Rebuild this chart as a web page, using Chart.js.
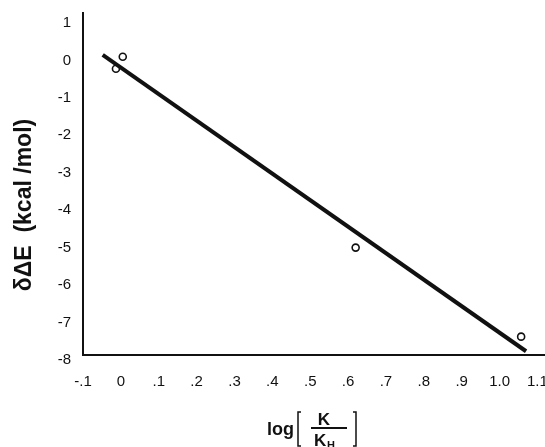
<!DOCTYPE html>
<html>
<head>
<meta charset="utf-8">
<script src="https://cdn.jsdelivr.net/npm/chart.js@4"></script>
<style>
  html, body { margin: 0; padding: 0; background: #fff; }
  #wrap { width: 545px; height: 447px; }
</style>
</head>
<body>
<div id="wrap"><canvas id="grafico" width="545" height="447"></canvas></div>
<script>
// datos
const puntosX = [-0.013, 0.005, 0.62, 1.057];
const puntosY = [-0.22, 0.1, -5.0, -7.38];
const rectaX = [-0.048, 1.07];
const rectaY = [0.15, -7.77];
const ticksX = [-0.1, 0, 0.1, 0.2, 0.3, 0.4, 0.5, 0.6, 0.7, 0.8, 0.9, 1.0, 1.1];
const etiquetasX = ["-.1", "0", ".1", ".2", ".3", ".4", ".5", ".6", ".7", ".8", ".9", "1.0", "1.1"];
const ticksY = [-8, -7, -6, -5, -4, -3, -2, -1, 0, 1];

const fuente = "'Liberation Sans', Arial, sans-serif";

// titulos dibujados a mano (fraccion del eje x)
const titulos = {
  id: "titulos",
  afterDraw(chart) {
    const ctx = chart.ctx;
    ctx.save();
    ctx.fillStyle = "#111";
    ctx.strokeStyle = "#111";

    // eje y
    ctx.translate(25, 205);
    ctx.rotate(-Math.PI / 2);
    ctx.font = "bold 23px " + fuente;
    ctx.textAlign = "center";
    ctx.textBaseline = "middle";
    ctx.fillText("δΔE  (kcal /mol)", 0, 0);
    ctx.setTransform(1, 0, 0, 1, 0, 0);

    // eje x
    ctx.textAlign = "left";
    ctx.textBaseline = "alphabetic";
    ctx.font = "bold 18px " + fuente;
    ctx.fillText("log", 267, 435);

    ctx.lineWidth = 1.5;
    ctx.beginPath();
    ctx.moveTo(301, 412); ctx.lineTo(298, 412); ctx.lineTo(298, 446); ctx.lineTo(301, 446);
    ctx.moveTo(353, 412); ctx.lineTo(356, 412); ctx.lineTo(356, 446); ctx.lineTo(353, 446);
    ctx.stroke();

    ctx.font = "bold 17px " + fuente;
    ctx.textAlign = "center";
    ctx.fillText("K", 324, 425);
    ctx.lineWidth = 2;
    ctx.beginPath();
    ctx.moveTo(311, 428); ctx.lineTo(347, 428);
    ctx.stroke();
    ctx.textAlign = "left";
    ctx.fillText("K", 314, 446);
    ctx.font = "bold 11px " + fuente;
    ctx.fillText("H", 327, 449);
    ctx.restore();
  }
};

new Chart(document.getElementById("grafico").getContext("2d"), {
  type: "scatter",
  data: {
    datasets: [
      {
        label: "ajuste",
        data: rectaX.map((x, i) => ({ x: x, y: rectaY[i] })),
        showLine: true,
        borderColor: "#111",
        borderWidth: 4,
        pointRadius: 0
      },
      {
        label: "datos",
        data: puntosX.map((x, i) => ({ x: x, y: puntosY[i] })),
        pointRadius: 3.5,
        pointBorderWidth: 1.6,
        pointBorderColor: "#111",
        pointBackgroundColor: "rgba(0,0,0,0)"
      }
    ]
  },
  plugins: [titulos],
  options: {
    responsive: false,
    animation: false,
    layout: { autoPadding: false, padding: { top: 13, right: 0, left: 0, bottom: 0 } },
    plugins: {
      legend: { display: false },
      tooltip: { enabled: false }
    },
    scales: {
      x: {
        type: "linear",
        min: -0.1,
        max: 1.12,
        afterBuildTicks: scale => { scale.ticks = ticksX.map(v => ({ value: v })); },
        afterFit: scale => { scale.height = 92; scale.paddingLeft = 0; scale.paddingRight = 0; },
        grid: { display: false },
        border: { display: true, color: "#111", width: 2 },
        ticks: {
          color: "#111",
          font: { family: fuente, size: 15 },
          padding: 10,
          maxRotation: 0,
          autoSkip: false,
          callback: (v, i) => etiquetasX[i]
        }
      },
      y: {
        type: "linear",
        min: -7.87,
        max: 1.27,
        afterBuildTicks: scale => { scale.ticks = ticksY.map(v => ({ value: v })); },
        afterFit: scale => { scale.width = 83; },
        grid: { display: false },
        border: { display: true, color: "#111", width: 2 },
        ticks: {
          color: "#111",
          font: { family: fuente, size: 15 },
          padding: 4,
          autoSkip: false,
          callback: v => String(v)
        }
      }
    }
  }
});
</script>
</body>
</html>
